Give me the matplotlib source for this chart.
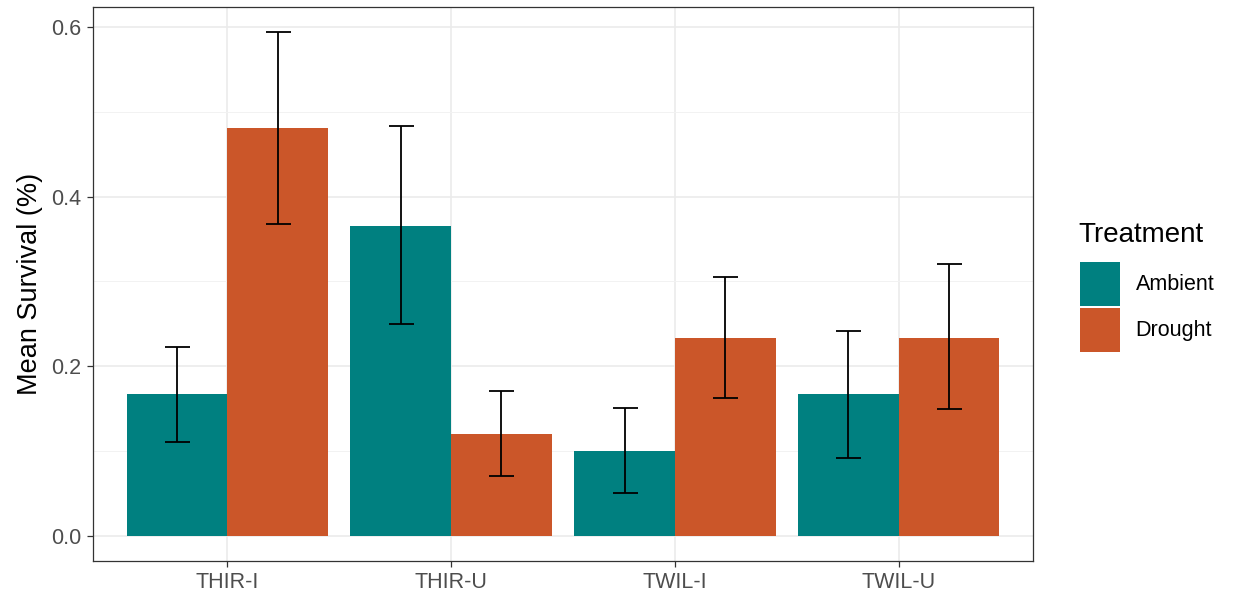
import numpy as np
import matplotlib.pyplot as plt
from matplotlib.patches import Patch

plt.rcParams['font.family'] = ['Liberation Sans', 'DejaVu Sans']

sites = ["THIR-I", "THIR-U", "TWIL-I", "TWIL-U"]
treatments = ["Ambient", "Drought"]
ambient_mean = [0.167, 0.365, 0.100, 0.167]
ambient_lo = [0.111, 0.250, 0.050, 0.092]
ambient_hi = [0.223, 0.483, 0.151, 0.242]
drought_mean = [0.481, 0.120, 0.233, 0.233]
drought_lo = [0.368, 0.070, 0.162, 0.149]
drought_hi = [0.594, 0.171, 0.305, 0.320]

colors = {"Ambient": "#008080", "Drought": "#CB5629"}

fig = plt.figure(figsize=(12.33, 5.96), dpi=100)
# panel box in pixels: left 93, right 1033, top 7, bottom 561
ax = fig.add_axes([93 / 1233, 35 / 596, 940 / 1233, 554 / 596])

x = np.arange(1, len(sites) + 1)
width = 0.45

series = [
    ("Ambient", ambient_mean, ambient_lo, ambient_hi, -width / 2),
    ("Drought", drought_mean, drought_lo, drought_hi, width / 2),
]
for name, mean, lo, hi, off in series:
    mean = np.array(mean)
    yerr = [mean - np.array(lo), np.array(hi) - mean]
    ax.bar(x + off, mean, width, color=colors[name], zorder=2)
    ax.errorbar(x + off, mean, yerr=yerr, fmt="none", ecolor="black",
                elinewidth=1.3, capsize=9, capthick=1.3, zorder=3)

ax.set_xlim(0.4, 4.6)
ax.set_ylim(-0.0297, 0.6237)
ax.set_xticks(x)
ax.set_xticklabels(sites)
ax.set_yticks([0.0, 0.2, 0.4, 0.6])
ax.set_yticklabels(["0.0", "0.2", "0.4", "0.6"])
ax.set_yticks([0.1, 0.3, 0.5], minor=True)
ax.grid(True, which="major", color="#EBEBEB", linewidth=1.2, zorder=0)
ax.grid(True, which="minor", axis="y", color="#F2F2F2", linewidth=0.7, zorder=0)
ax.set_axisbelow(True)
ax.tick_params(axis="both", which="major", labelsize=15.5, labelcolor="#4D4D4D",
               color="#333333", length=4.5, width=0.9)
ax.tick_params(axis="y", which="major", pad=4)
ax.tick_params(axis="y", which="minor", length=0)
for s in ax.spines.values():
    s.set_color("#333333")
    s.set_linewidth(0.9)
ax.set_ylabel("Mean Survival (%)", fontsize=19.5, color="black", labelpad=6)

# legend: title drawn separately so the gap above the keys can be set
fig.text(1078 / 1233, 1 - 235 / 596, "Treatment", fontsize=20, va="center", ha="left")
handles = [Patch(facecolor=colors[t], edgecolor="none") for t in treatments]
leg = fig.legend(handles, treatments, loc="upper left",
                 bbox_to_anchor=(1080 / 1233, 1 - 262 / 596), frameon=False,
                 fontsize=15.5, handlelength=1.86, handleheight=2.75,
                 handletextpad=0.72, labelspacing=0.1,
                 borderpad=0, borderaxespad=0)

fig.savefig("out.png", dpi=100)
